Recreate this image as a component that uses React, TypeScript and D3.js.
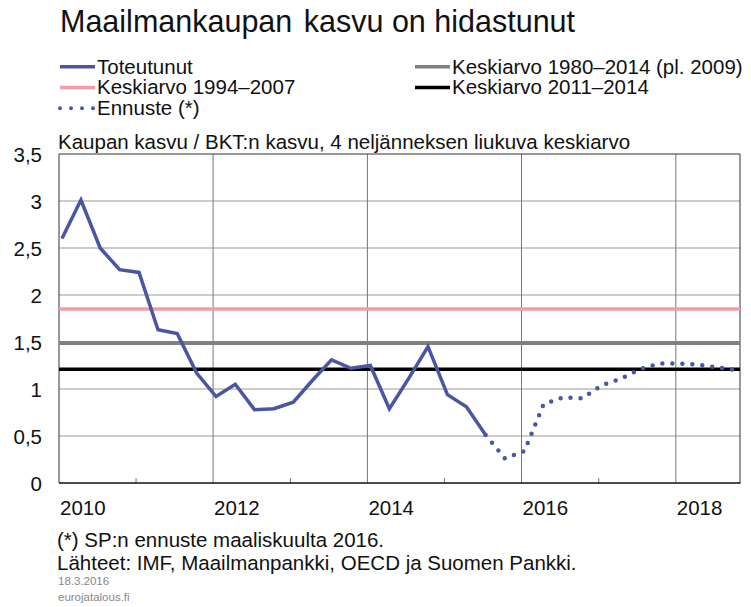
import React, { useEffect, useRef } from 'react';
import * as d3 from 'd3';

// quarterly observations, 2010Q1 - 2015Q3
const actualQuarters = [
  '2010Q1', '2010Q2', '2010Q3', '2010Q4',
  '2011Q1', '2011Q2', '2011Q3', '2011Q4',
  '2012Q1', '2012Q2', '2012Q3', '2012Q4',
  '2013Q1', '2013Q2', '2013Q3', '2013Q4',
  '2014Q1', '2014Q2', '2014Q3', '2014Q4',
  '2015Q1', '2015Q2', '2015Q3'
];
const actualValues = [
  2.6, 3.01, 2.5, 2.27, 2.24, 1.63, 1.59, 1.17,
  0.92, 1.05, 0.78, 0.79, 0.86, 1.09, 1.31, 1.22,
  1.25, 0.79, 1.11, 1.45, 0.94, 0.81, 0.51
];

// forecast, 2015Q3 - 2018Q4
const forecastQuarters = [
  '2015Q3', '2015Q4',
  '2016Q1', '2016Q2', '2016Q3', '2016Q4',
  '2017Q1', '2017Q2', '2017Q3', '2017Q4',
  '2018Q1', '2018Q2', '2018Q3', '2018Q4'
];
const forecastValues = [
  0.51, 0.26, 0.34, 0.84, 0.91, 0.9, 1.04, 1.11, 1.21, 1.27, 1.27, 1.26, 1.23, 1.2
];

const avg1994_2007 = 1.85;
const avg1980_2014 = 1.49;
const avg2011_2014 = 1.21;

const yTicks = [0, 0.5, 1, 1.5, 2, 2.5, 3, 3.5];
const majorYears = [2010, 2012, 2014, 2016, 2018];
const minorYears = [2011, 2013, 2015, 2017];

const titleWords = ['Maailmankaupan', 'kasvu on hidastunut'];
const subtitle = 'Kaupan kasvu / BKT:n kasvu, 4 neljänneksen liukuva keskiarvo';
const footnotes = ['(*) SP:n ennuste maaliskuulta 2016.', 'Lähteet: IMF, Maailmanpankki, OECD ja Suomen Pankki.'];
const stamp = ['18.3.2016', 'eurojatalous.fi'];

const BLUE = '#4a55a3';
const PINK = '#f39ca4';
const GRAY = '#808080';
const FONT = '"Liberation Sans", Arial, sans-serif';

const quarterDate = (q: string) => new Date(+q.slice(0, 4), (+q.slice(5) - 1) * 3, 15);

const App = () => {
  const svgRef = useRef<SVGSVGElement>(null);
  const width = 751;
  const height = 607;

  useEffect(() => {
    const svg = d3.select(svgRef.current);
    svg.selectAll('*').remove();

    const left = 59, right = 740, top = 154, bottom = 483;

    const x = d3.scaleTime()
      .domain([new Date(2010, 0, 1), new Date(2018, 10, 1)])
      .range([left, right]);
    const y = d3.scaleLinear().domain([0, 3.5]).range([bottom, top]);

    // title
    const titleEl = svg.append('text')
      .attr('x', 60).attr('y', 32)
      .attr('font-size', 30.5)
      .attr('fill', '#111');
    titleEl.append('tspan').text(titleWords[0]);
    titleEl.append('tspan').attr('dx', 3).text(' ' + titleWords[1]);

    // legend
    const legendItems = [
      { label: 'Toteutunut', color: BLUE, w: 3.5, dots: false, col: 0, row: 0 },
      { label: 'Keskiarvo 1994–2007', color: PINK, w: 3.5, dots: false, col: 0, row: 1 },
      { label: 'Ennuste (*)', color: BLUE, w: 4, dots: true, col: 0, row: 2 },
      { label: 'Keskiarvo 1980–2014 (pl. 2009)', color: GRAY, w: 3.5, dots: false, col: 1, row: 0 },
      { label: 'Keskiarvo 2011–2014', color: '#000', w: 3.5, dots: false, col: 1, row: 1 }
    ];
    legendItems.forEach(item => {
      const lx = item.col === 0 ? 60 : 415;
      const ly = 73.5 + item.row * 20.8;
      const line = svg.append('line')
        .attr('x1', lx).attr('x2', lx + 35)
        .attr('y1', ly - 6.8).attr('y2', ly - 6.8)
        .attr('stroke', item.color)
        .attr('stroke-width', item.w);
      if (item.dots) {
        line.attr('stroke-dasharray', '0 11').attr('stroke-linecap', 'round').attr('x2', lx + 34);
      }
      svg.append('text')
        .attr('x', lx + 37).attr('y', ly)
        .attr('font-size', 20.5)
        .attr('fill', '#111')
        .text(item.label);
    });

    // subtitle
    svg.append('text')
      .attr('x', 58).attr('y', 149)
      .attr('font-size', 20.5)
      .attr('fill', '#111')
      .text(subtitle);

    // horizontal grid
    svg.append('g')
      .selectAll('line')
      .data(yTicks.filter(d => d > 0 && d < 3.5))
      .join('line')
      .attr('x1', left).attr('x2', right)
      .attr('y1', d => y(d)).attr('y2', d => y(d))
      .attr('stroke', '#999')
      .attr('stroke-width', 1);

    // vertical grid at even years
    svg.append('g')
      .selectAll('line')
      .data(majorYears.filter(d => d > 2010))
      .join('line')
      .attr('x1', d => x(new Date(d, 0, 1))).attr('x2', d => x(new Date(d, 0, 1)))
      .attr('y1', top).attr('y2', bottom)
      .attr('stroke', '#777')
      .attr('stroke-width', 1);

    // minor ticks at odd years
    svg.append('g')
      .selectAll('line')
      .data(minorYears)
      .join('line')
      .attr('x1', d => x(new Date(d, 0, 1))).attr('x2', d => x(new Date(d, 0, 1)))
      .attr('y1', bottom - 5).attr('y2', bottom)
      .attr('stroke', '#777')
      .attr('stroke-width', 1);

    // frame
    svg.append('path')
      .attr('d', `M${left},${bottom}V${top}H${right}V${bottom}`)
      .attr('fill', 'none')
      .attr('stroke', '#333')
      .attr('stroke-width', 1);

    // average lines
    [
      { v: avg1994_2007, c: PINK, w: 3.5 },
      { v: avg1980_2014, c: GRAY, w: 4 },
      { v: avg2011_2014, c: '#000', w: 3.5 }
    ].forEach(a => {
      svg.append('line')
        .attr('x1', left).attr('x2', right)
        .attr('y1', y(a.v)).attr('y2', y(a.v))
        .attr('stroke', a.c)
        .attr('stroke-width', a.w);
    });

    const line = d3.line<[string, number]>()
      .x(d => x(quarterDate(d[0])))
      .y(d => y(d[1]));

    svg.append('path')
      .datum(actualQuarters.map((q, i) => [q, actualValues[i]] as [string, number]))
      .attr('d', line)
      .attr('fill', 'none')
      .attr('stroke', BLUE)
      .attr('stroke-width', 3.5)
      .attr('stroke-linejoin', 'miter');

    svg.append('path')
      .datum(forecastQuarters.map((q, i) => [q, forecastValues[i]] as [string, number]))
      .attr('d', line)
      .attr('fill', 'none')
      .attr('stroke', BLUE)
      .attr('stroke-width', 4.5)
      .attr('stroke-linecap', 'round')
      .attr('stroke-dasharray', '0 10');

    // bottom axis line
    svg.append('line')
      .attr('x1', left).attr('x2', right + 0.5)
      .attr('y1', bottom).attr('y2', bottom)
      .attr('stroke', '#111')
      .attr('stroke-width', 1.5);

    // y labels
    svg.append('g')
      .selectAll('text')
      .data(yTicks)
      .join('text')
      .attr('x', 42)
      .attr('y', d => y(d) + 7.5)
      .attr('text-anchor', 'end')
      .attr('font-size', 20.5)
      .attr('fill', '#111')
      .text(d => String(d).replace('.', ','));

    // x labels
    svg.append('g')
      .selectAll('text')
      .data(majorYears)
      .join('text')
      .attr('x', d => x(new Date(d, 0, 1)) + 1)
      .attr('y', 515)
      .attr('font-size', 20.5)
      .attr('fill', '#111')
      .text(d => String(d));

    // footer
    footnotes.forEach((t, i) => {
      svg.append('text')
        .attr('x', 57).attr('y', 547 + i * 22.5)
        .attr('font-size', 20.5)
        .attr('fill', '#111')
        .text(t);
    });
    stamp.forEach((t, i) => {
      svg.append('text')
        .attr('x', 58).attr('y', 585 + i * 16)
        .attr('font-size', 11.5)
        .attr('fill', '#888')
        .text(t);
    });
  }, []);

  return (
    <svg
      ref={svgRef}
      width={width}
      height={height}
      style={{ position: 'absolute', left: 0, top: 0, background: '#fff', fontFamily: FONT }}
    />
  );
};

export default App;
